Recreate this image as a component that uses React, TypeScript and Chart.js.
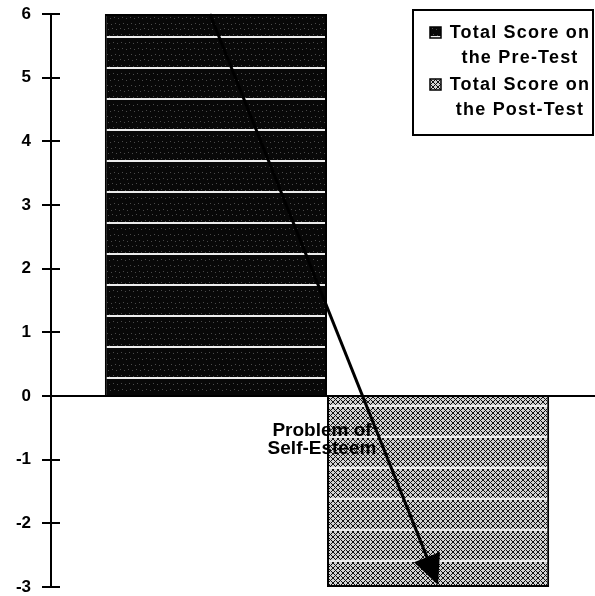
import React, { useEffect, useRef } from 'react';
import { Chart, registerables } from 'chart.js';

Chart.register(...registerables);

const categories = [['Problem of', 'Self-Esteem']];
const seriesLabels = ['Total Score on the Pre-Test', 'Total Score on the Post-Test'];
const legendLines = [
  ['Total Score on', 'the Pre-Test'],
  ['Total Score on', 'the Post-Test'],
];
const preTest = [6];
const postTest = [-3];
const yMin = -3;
const yMax = 6;
const yStep = 1;

const FONT = '"Liberation Sans", Arial, sans-serif';

function makePattern(kind: 'pre' | 'post', shift: number): CanvasPattern {
  const c = document.createElement('canvas');
  const w = kind === 'pre' ? 8 : 5;
  const h = 31;
  c.width = w;
  c.height = h;
  const g = c.getContext('2d')!;
  if (kind === 'pre') {
    g.fillStyle = '#080808';
    g.fillRect(0, 0, w, h);
    g.fillStyle = '#4a4a4a';
    for (let y = 3; y < h; y++)
      for (let x = 0; x < w; x++) if ((x * 5 + y * 3) % 23 === 0) g.fillRect(x, y, 1, 1);
  } else {
    g.fillStyle = '#d2d2d2';
    g.fillRect(0, 0, w, h);
    g.fillStyle = '#111111';
    for (let y = 0; y < h; y++)
      for (let x = 0; x < w; x++)
        if ((x + y) % 5 === 0 || (((x - y) % 5) + 5) % 5 === 0) g.fillRect(x, y, 1, 1);
  }
  g.fillStyle = '#ececec';
  g.fillRect(0, 0, w, 2);
  const tmp = document.createElement('canvas').getContext('2d')!;
  const p = tmp.createPattern(c, 'repeat')!;
  p.setTransform(new DOMMatrix().translate(0, shift));
  return p;
}

export default function App() {
  const ref = useRef<HTMLCanvasElement>(null);

  useEffect(() => {
    if (!ref.current) return;
    const prePattern = makePattern('pre', 5);
    const postPattern = makePattern('post', 2);
    const patterns = [prePattern, postPattern];

    const innerTicks = {
      id: 'innerTicks',
      afterDraw(chart: any) {
        const { ctx, chartArea } = chart;
        const ys = chart.scales.y;
        ctx.save();
        ctx.strokeStyle = '#000';
        ctx.lineWidth = 2;
        ys.ticks.forEach((t: any) => {
          const py = Math.round(ys.getPixelForValue(t.value));
          ctx.beginPath();
          ctx.moveTo(chartArea.left, py);
          ctx.lineTo(chartArea.left + 9, py);
          ctx.stroke();
        });
        ctx.restore();
      },
    };

    const arrowPlugin = {
      id: 'arrow',
      afterDatasetsDraw(chart: any) {
        const { ctx } = chart;
        const ys = chart.scales.y;
        const b0 = chart.getDatasetMeta(0).data[0];
        const b1 = chart.getDatasetMeta(1).data[0];
        const sx = b0.x - 6;
        const sy = ys.getPixelForValue(preTest[0]);
        const ex = b1.x;
        const ey = ys.getPixelForValue(postTest[0]) - 2;
        const dx = ex - sx;
        const dy = ey - sy;
        const len = Math.hypot(dx, dy);
        const ux = dx / len;
        const uy = dy / len;
        const headLen = 30;
        const headHalf = 14;
        const bx = ex - ux * headLen;
        const by = ey - uy * headLen;
        ctx.save();
        ctx.strokeStyle = '#000';
        ctx.fillStyle = '#000';
        ctx.lineWidth = 3;
        ctx.beginPath();
        ctx.moveTo(sx, sy);
        ctx.lineTo(bx + ux * 4, by + uy * 4);
        ctx.stroke();
        ctx.beginPath();
        ctx.moveTo(ex, ey);
        ctx.lineTo(bx - uy * headHalf, by + ux * headHalf);
        ctx.lineTo(bx + uy * headHalf, by - ux * headHalf);
        ctx.closePath();
        ctx.fill();
        ctx.restore();
      },
    };

    const legendPlugin = {
      id: 'boxLegend',
      afterDraw(chart: any) {
        const { ctx, chartArea } = chart;
        const w = 180;
        const h = 125;
        const right = chartArea.right - 10;
        const left = right - w;
        const top = chartArea.top - 4;
        ctx.save();
        ctx.fillStyle = '#fff';
        ctx.fillRect(left, top, w, h);
        ctx.lineWidth = 2;
        ctx.strokeStyle = '#000';
        ctx.strokeRect(left, top, w, h);
        ctx.font = `bold 18px ${FONT}`;
        (ctx as any).letterSpacing = '1.2px';
        ctx.textAlign = 'center';
        ctx.textBaseline = 'alphabetic';
        legendLines.forEach((lines, i) => {
          const baseY = top + 28 + i * 52;
          ctx.fillStyle = patterns[i];
          ctx.fillRect(left + 17, baseY - 11, 11, 11);
          ctx.lineWidth = 1.5;
          ctx.strokeStyle = '#000';
          ctx.strokeRect(left + 17, baseY - 11, 11, 11);
          ctx.fillStyle = '#000';
          lines.forEach((t, j) => {
            ctx.fillText(t, left + 107, baseY + j * 25);
          });
        });
        ctx.restore();
      },
    };

    const chart = new Chart(ref.current, {
      type: 'bar',
      data: {
        labels: categories as any,
        datasets: [
          {
            label: seriesLabels[0],
            data: preTest,
            backgroundColor: prePattern as any,
            borderColor: '#000',
            borderWidth: 2,
            categoryPercentage: 0.805,
            barPercentage: 1,
          },
          {
            label: seriesLabels[1],
            data: postTest,
            backgroundColor: postPattern as any,
            borderColor: '#000',
            borderWidth: 2,
            categoryPercentage: 0.805,
            barPercentage: 1,
          },
        ],
      },
      options: {
        animation: false,
        responsive: false,
        devicePixelRatio: 1,
        layout: { padding: { top: 14, bottom: 9, left: 0, right: 0 } },
        plugins: {
          legend: { display: false },
          tooltip: { enabled: false },
        },
        scales: {
          x: {
            type: 'category',
            position: { y: 0 } as any,
            grid: { display: true, drawOnChartArea: false, drawTicks: false },
            border: { display: true, color: '#000', width: 2, z: 1 } as any,
            ticks: {
              color: '#000',
              font: { family: FONT, weight: 'bold', size: 19, lineHeight: '18px' } as any,
              padding: 26,
              labelOffset: -5,
              maxRotation: 0,
              autoSkip: false,
              z: 1,
            } as any,
          },
          y: {
            type: 'linear',
            position: 'left',
            min: yMin,
            max: yMax,
            afterFit(scale: any) {
              scale.width = 51;
              scale.paddingTop = 0;
              scale.paddingBottom = 0;
            },
            grid: {
              display: true,
              drawOnChartArea: false,
              drawTicks: true,
              tickLength: 9,
              color: '#000',
              lineWidth: 2,
            },
            border: { display: true, color: '#000', width: 2 },
            ticks: {
              stepSize: yStep,
              color: '#000',
              padding: 11,
              font: { family: FONT, weight: 'bold', size: 17, lineHeight: 1 } as any,
            },
          },
        },
      },
      plugins: [innerTicks, arrowPlugin, legendPlugin],
    });
    return () => chart.destroy();
  }, []);

  return (
    <div
      style={{
        position: 'fixed',
        left: 0,
        top: 0,
        width: 595,
        height: 596,
        overflow: 'hidden',
        background: '#fff',
      }}
    >
      <canvas ref={ref} width={603} height={596} style={{ display: 'block', width: 603, height: 596 }} />
    </div>
  );
}
